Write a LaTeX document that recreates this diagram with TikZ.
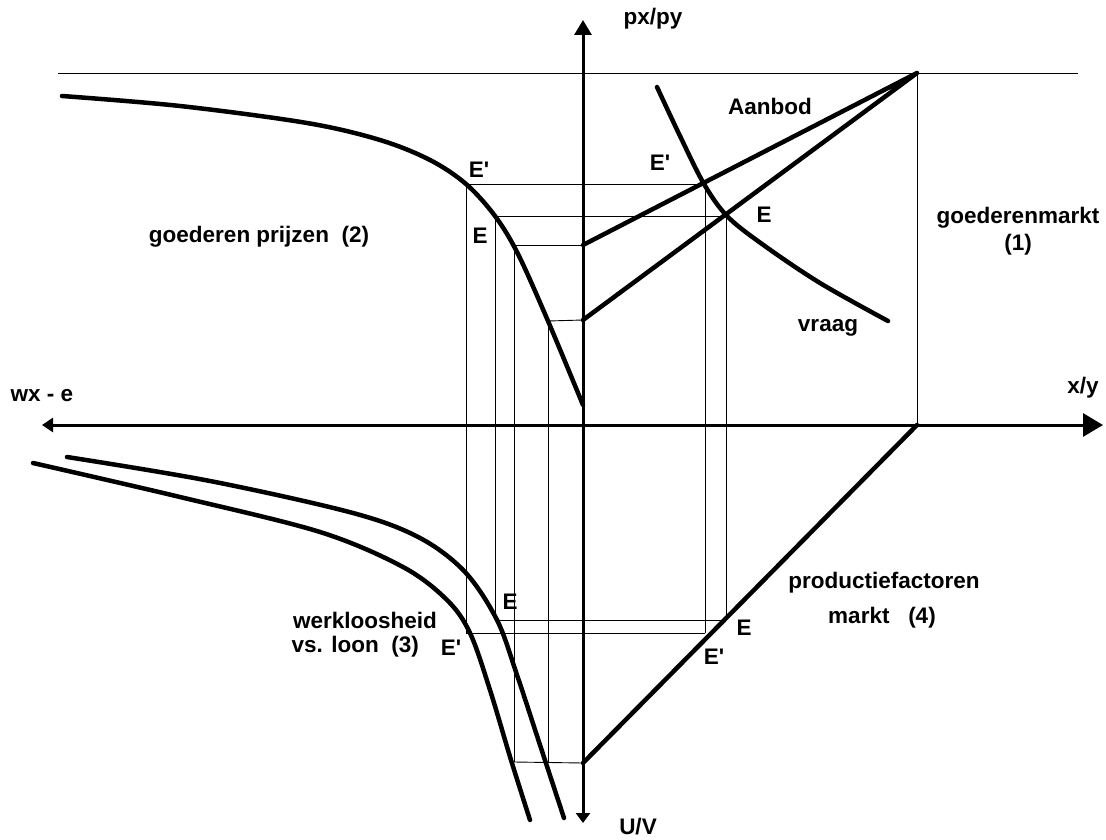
\documentclass[tikz,border=0pt]{standalone}
\usepackage{fontspec}
\setmainfont[Ligatures=TeXOff]{Liberation Sans}
\usetikzlibrary{arrows.meta}
\begin{document}
\begin{tikzpicture}[x=1pt,y=-1pt,
  curve/.style={line width=4.5pt,line cap=round,line join=round},
  axisline/.style={line width=3pt},
  guide/.style={line width=0.9pt},
  lbl/.style={font=\fontsize{22.5}{27}\selectfont\bfseries,inner sep=0pt,align=center}]
\useasboundingbox (0,0) rectangle (1106,840);
% key points
\coordinate (O) at (583,425);
\coordinate (ytop) at (583,20);
\coordinate (ybot) at (583,823);
\coordinate (xl) at (42,425);
\coordinate (xr) at (1103,425);
\coordinate (T) at (917,73);
\coordinate (S1) at (583,245);
\coordinate (S2) at (583,320);
\coordinate (F) at (917,425);
\coordinate (Fb) at (583,763);
\coordinate (hl) at (58,73);
\coordinate (hr) at (1078,73);
% curve points
\coordinate (pa) at (466,184);
\coordinate (pb) at (495,216);
\coordinate (pc) at (514,245);
\coordinate (pd) at (548,321);
\coordinate (qa) at (705,184);
\coordinate (qb) at (726,216);
\coordinate (ra) at (466,633);
\coordinate (rb) at (495,620);
\coordinate (rc) at (514,762);
\coordinate (rd) at (548,762);
\coordinate (sa) at (705,633);
\coordinate (sb) at (726,620);
% thin lines
\draw[guide] (hl) -- (hr);
\draw[guide] (T) -- (F);
\draw[guide] (pa) -- (qa);
\draw[guide] (pb) -- (qb);
\draw[guide] (pc) -- (S1);
\draw[guide] (pd) -- (S2);
\draw[guide] (pa) -- (ra);
\draw[guide] (pb) -- (rb);
\draw[guide] (pc) -- (rc);
\draw[guide] (pd) -- (rd);
\draw[guide] (qa) -- (sa);
\draw[guide] (qb) -- (sb);
\draw[guide] (ra) -- (sa);
\draw[guide] (rb) -- (sb);
\draw[guide] (rc) -- (Fb);
% axes
\draw[axisline,{Triangle[length=10pt,width=14pt]}-{Triangle[length=15pt,width=17pt]}] (ybot) -- (ytop);
\draw[axisline,{Triangle[length=11pt,width=14pt]}-{Triangle[length=20pt,width=23pt]}] (xl) -- (xr);
% supply lines and factor line
\draw[curve] (S1) -- (T) -- (S2);
\draw[curve] (F) -- (Fb);
% demand
\draw[curve] plot[smooth,tension=0.55] coordinates {(657,87) (680,136) (704,184) (727,216) (762,244) (820,283) (888,321)};
% goods prices curve
\draw[curve] plot[smooth,tension=0.55] coordinates {(62,96) (180,106) (307,123) (380,140) (430,160) (466,184) (495,216) (518,254) (548,321) (583,405)};
% unemployment curves
\draw[curve] plot[smooth,tension=0.55] coordinates {(67,457) (210,481) (353,513) (420,538) (465,572) (497,620) (517,675) (540,745) (564,818)};
\draw[curve] plot[smooth,tension=0.55] coordinates {(33,463) (180,497) (320,532) (403,567) (447,600) (470,633) (490,690) (511,760) (530,820)};
% labels
\node[lbl] (lpxpy) at (653,19) {px/py};
\node[lbl] (laanbod) at (770,106) {Aanbod};
\node[lbl] (lE1) at (660,163) {E'};
\node[lbl] (lE2) at (764,215) {E};
\node[lbl] (lgm) at (1018,231) {goederenmarkt\\(1)};
\node[lbl] (lvraag) at (828,328) {vraag};
\node[lbl] (lgp) at (259,237) {goederen prijzen~~(2)};
\node[lbl] (lE3) at (479,170) {E'};
\node[lbl] (lE4) at (480,236) {E};
\node[lbl] (lwx) at (42,396) {wx - e};
\node[lbl] (lxy) at (1083,388) {x/y};
\node[lbl] (lpf) at (884,583) {productiefactoren};
\node[lbl] (lmk) at (882,618) {markt~~~(4)};
\node[lbl] (lE5) at (744,628) {E};
\node[lbl] (lE6) at (714,657) {E'};
\node[lbl,anchor=east] (lwl) at (437,620) {werkloosheid};
\node[lbl,anchor=east] (lvs) at (419,647) {vs. loon~~(3)};
\node[lbl] (lE7) at (510,602) {E};
\node[lbl] (lE8) at (451,648) {E'};
\node[lbl] (luv) at (638,827) {U/V};
\end{tikzpicture}
\end{document}
